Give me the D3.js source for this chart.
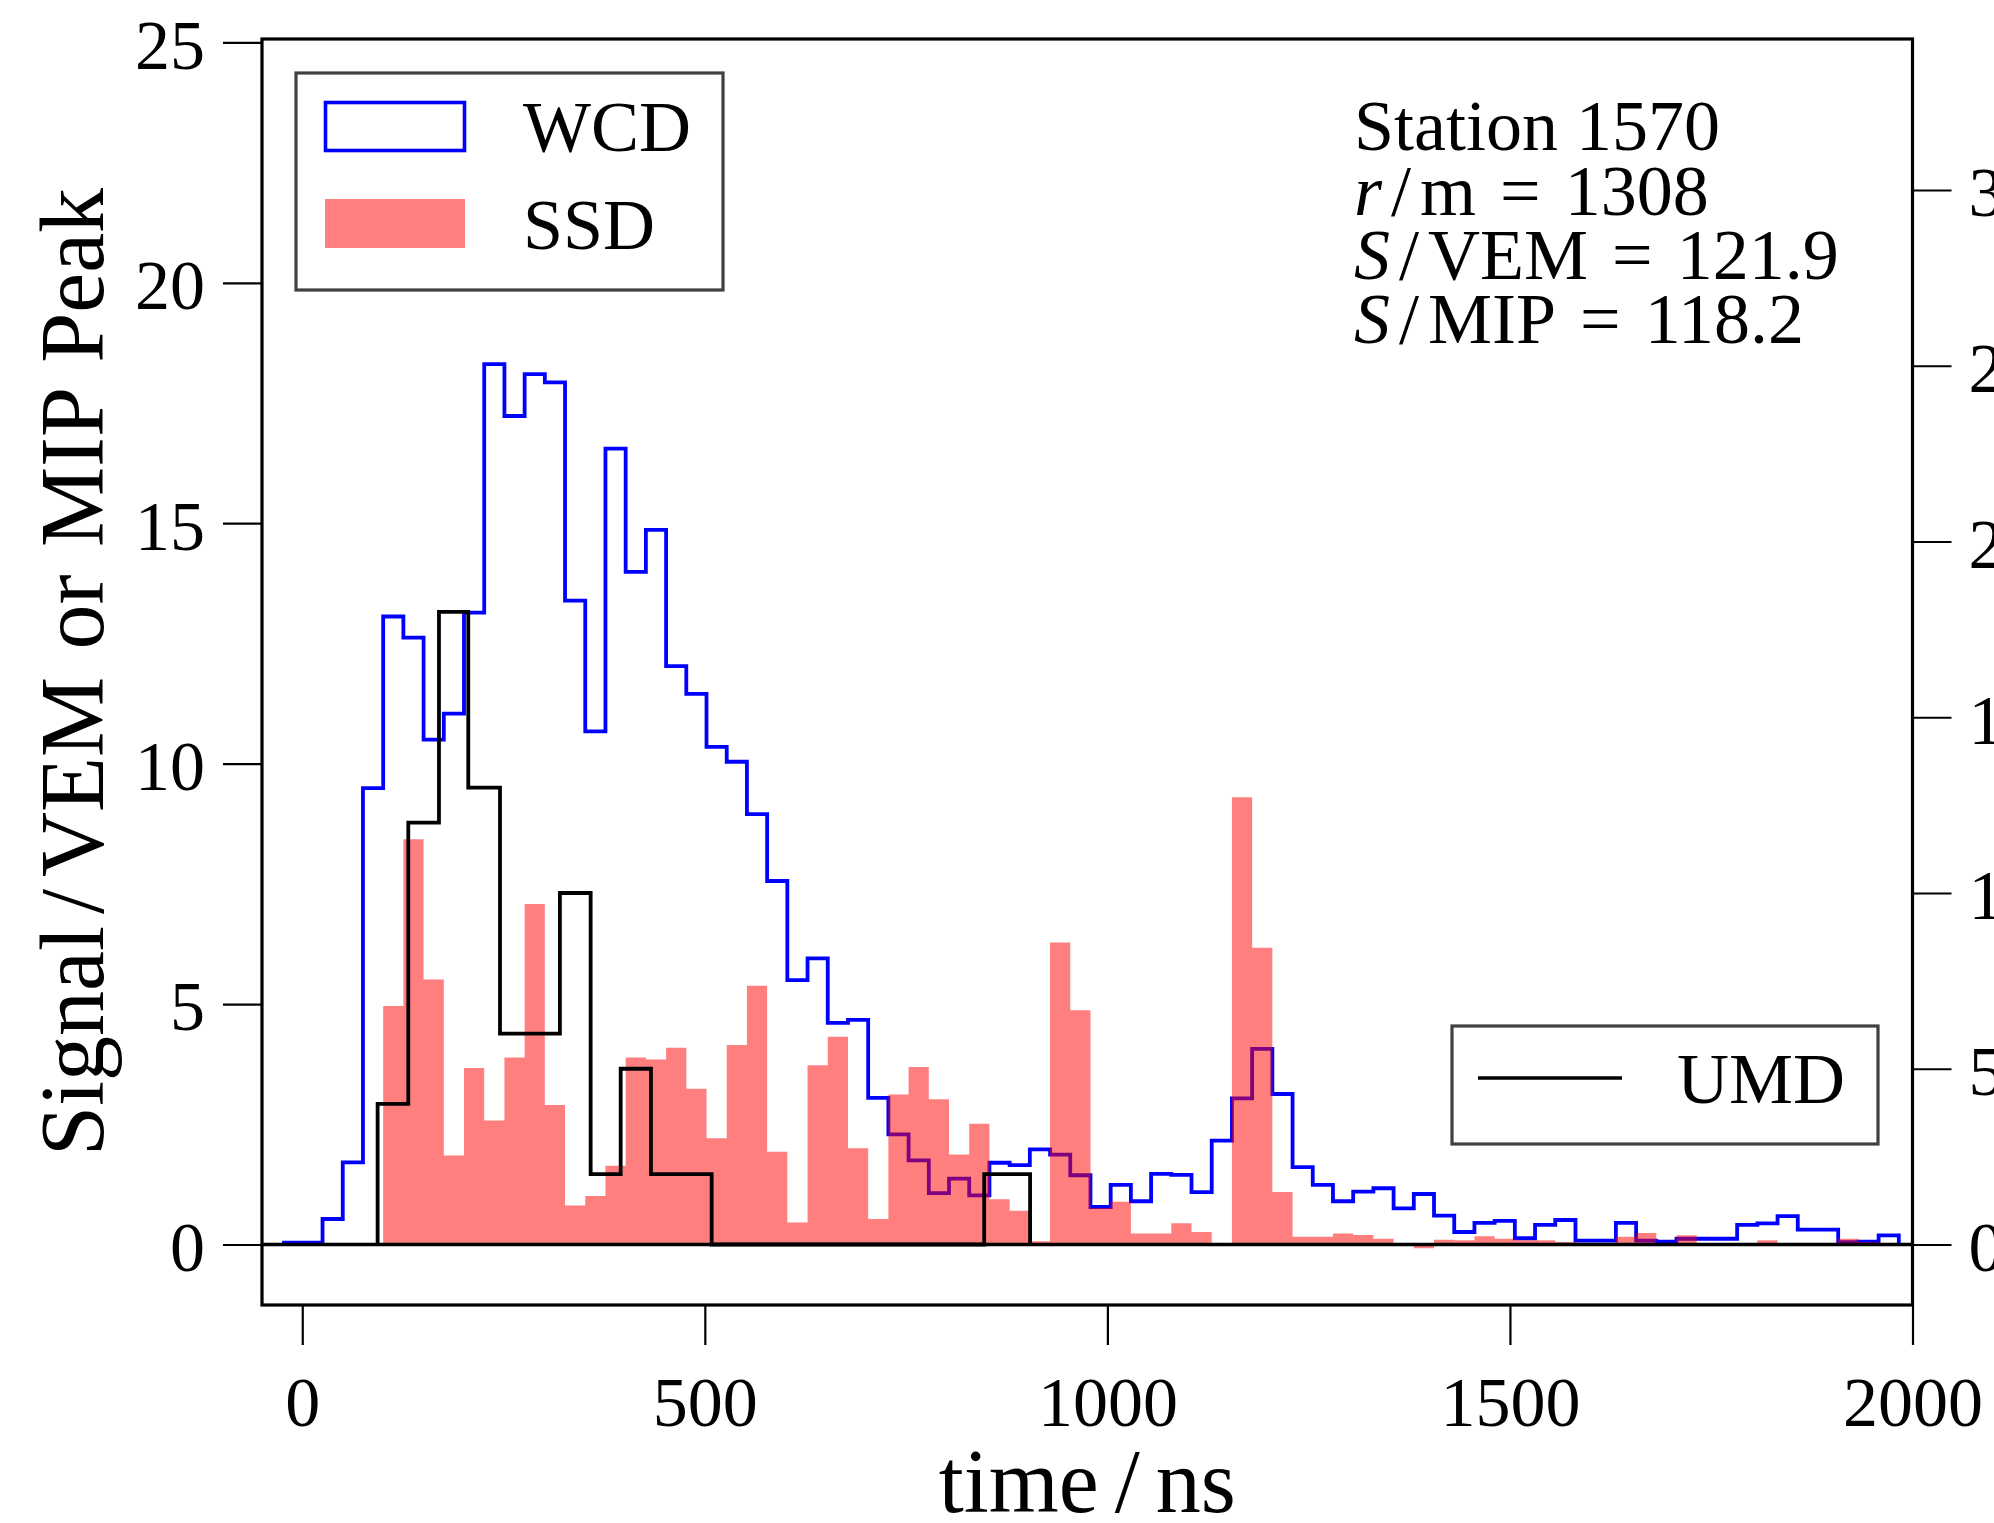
<!DOCTYPE html>
<html><head><meta charset="utf-8">
<script src="https://cdn.jsdelivr.net/npm/d3@7/dist/d3.min.js"></script>
<style>
body{margin:0;background:#fff}
svg{display:block}
text{font-family:"Liberation Serif","Times New Roman",serif;fill:#000}
</style>
</head><body>
<svg id="chart" width="1994" height="1523"></svg>
<script>
// ---- data ----
const binStart = -25;      // ns, first bin edge of WCD/SSD traces
const binWidth = 25.1;     // ns per FADC bin
const wcdValues = [0.04,0.04,0.53,1.71,9.49,13.06,12.62,10.50,11.04,13.14,
  18.31,17.23,18.10,17.93,13.39,10.67,16.55,13.99,14.86,12.03,
  11.45,10.35,10.04,8.95,7.56,5.50,5.95,4.61,4.67,3.05,
  2.29,1.75,1.07,1.37,1.02,1.70,1.65,1.98,1.87,1.44,
  0.78,1.24,0.90,1.47,1.45,1.09,2.16,3.04,4.07,3.13,
  1.61,1.24,0.90,1.10,1.17,0.75,1.05,0.60,0.26,0.45,
  0.49,0.13,0.41,0.51,0.08,0.08,0.45,0.08,0.06,0.12,
  0.12,0.12,0.41,0.44,0.59,0.31,0.31,0.05,0.06,0.19];
const ssdValues = [0,0,0,0,0,4.96,8.43,5.51,1.85,3.67,
  2.58,3.89,7.08,2.90,0.81,1.01,1.64,3.89,3.85,4.09,
  3.24,2.21,4.15,5.38,1.93,0.46,3.73,4.32,2.00,0.53,
  3.12,3.69,3.02,1.87,2.51,0.94,0.70,0.07,6.28,4.87,
  0.76,0.89,0.23,0.23,0.44,0.26,0,9.30,6.17,1.09,
  0.16,0.16,0.23,0.20,0.12,0,-0.08,0.10,0.09,0.17,
  0.12,0.09,0.09,0.05,0,0,0.16,0.24,0,0.19,
  0,0,0,0.09,0.03,0,0,0.12,0.05,0];
const umdEdges  = [93.6,131.7,169.8,206.2,245.6,283,320,358.2,395.5,433.1,470.8,508.5,847,904];
const umdValues = [4,12,18,13,6,6,10,2,5,2,2,0,2];
const xTicks = [0,500,1000,1500,2000];
const yTicks = [0,5,10,15,20,25];
const yRightTicks = [0,5,10,15,20,25,30];
const legendLabels = ["WCD","SSD","UMD"];
const stationInfo = {station:"1570", r:"1308", sVem:"121.9", sMip:"118.2"};

// ---- layout ----
const L = 262, R = 1912.5, T = 39, B = 1305;
const svg = d3.select("#chart");
const x = d3.scaleLinear().domain([-50, 2000]).range([L, R]);
const yL = d3.scaleLinear().domain([-1.258, 25.07]).range([B, T]);
const rightFactor = 1.368;
const yR = d3.scaleLinear().domain([-1.258*rightFactor, 25.07*rightFactor]).range([B, T]);

const edges = d3.range(wcdValues.length + 1).map(k => binStart + binWidth*k);

// WCD step line
const wcdPts = wcdValues.map((v,i) => [edges[i], v]);
wcdPts.push([edges[wcdValues.length], wcdValues[wcdValues.length-1]]);
wcdPts.push([edges[wcdValues.length], 0]);
const stepLine = d3.line().x(d => x(d[0])).y(d => yL(d[1])).curve(d3.curveStepAfter);
svg.append("path").attr("d", stepLine(wcdPts))
  .attr("fill","none").attr("stroke","#0000ff").attr("stroke-width",3.8)
  .attr("stroke-linejoin","miter");

// SSD filled histogram
const ssdPts = ssdValues.map((v,i) => [edges[i], v]);
ssdPts.push([edges[ssdValues.length], ssdValues[ssdValues.length-1]]);
const area = d3.area().x(d => x(d[0])).y0(yL(0)).y1(d => yL(d[1])).curve(d3.curveStepAfter);
svg.append("path").attr("d", area(ssdPts))
  .attr("fill","#ff0000").attr("fill-opacity",0.5).attr("stroke","none");

// UMD step line (right axis)
const umdPts = umdValues.map((v,i) => [umdEdges[i], v]);
umdPts.unshift([umdEdges[0], 0]);
umdPts.push([umdEdges[umdEdges.length-1], umdValues[umdValues.length-1]]);
umdPts.push([umdEdges[umdEdges.length-1], 0]);
const umdLine = d3.line().x(d => x(d[0])).y(d => yR(d[1])).curve(d3.curveLinear);
const umdStep = [];
umdPts.forEach((p,i) => {
  if (i > 0) umdStep.push([p[0], umdPts[i-1][1]]);
  umdStep.push(p);
});
svg.append("path").attr("d", umdLine(umdStep))
  .attr("fill","none").attr("stroke","#000").attr("stroke-width",3.8);

// zero line
svg.append("line").attr("x1",L).attr("x2",R).attr("y1",yL(0)).attr("y2",yL(0))
  .attr("stroke","#000").attr("stroke-width",3.4);

// frame
svg.append("rect").attr("x",L).attr("y",T).attr("width",R-L).attr("height",B-T)
  .attr("fill","none").attr("stroke","#000").attr("stroke-width",3.2);

// axes
function styleAxis(g){
  g.select(".domain").remove();
  g.selectAll(".tick line").attr("stroke","#000").attr("stroke-width",2.2);
  g.selectAll(".tick text").attr("font-size",70)
    .attr("font-family",'"Liberation Serif","Times New Roman",serif').attr("fill","#000");
}
const gl = svg.append("g").attr("transform",`translate(${L},0)`)
  .call(d3.axisLeft(yL).tickValues(yTicks).tickSize(39).tickPadding(18).tickFormat(d3.format("d")));
styleAxis(gl); gl.selectAll(".tick text").attr("dy","0.37em");
const gr = svg.append("g").attr("transform",`translate(${R},0)`)
  .call(d3.axisRight(yR).tickValues(yRightTicks).tickSize(39).tickPadding(17).tickFormat(d3.format("d")));
styleAxis(gr); gr.selectAll(".tick text").attr("dy","0.37em");
const gb = svg.append("g").attr("transform",`translate(0,${B})`)
  .call(d3.axisBottom(x).tickValues(xTicks).tickSize(40).tickPadding(31).tickFormat(d3.format("d")));
styleAxis(gb);

// helper: text with math-style spacing around the slash
function slashText(sel, parts){
  parts.forEach(p => {
    const ts = sel.append("tspan").text(p.t);
    if (p.italic) ts.attr("font-style","italic");
    if (p.dx) ts.attr("dx", p.dx);
  });
}

// axis labels
const xl = svg.append("text").attr("x",(L+R)/2).attr("y",1512).attr("text-anchor","middle")
  .attr("font-size",90);
slashText(xl, [{t:"time"},{t:"/",dx:16},{t:"ns",dx:16}]);
const yl = svg.append("text").attr("transform",`translate(103,${(T+B)/2}) rotate(-90)`)
  .attr("text-anchor","middle").attr("font-size",90).attr("word-spacing",5);
slashText(yl, [{t:"Signal"},{t:"/",dx:12},{t:"VEM or MIP Peak",dx:12}]);

// legend 1
const lg = svg.append("g");
lg.append("rect").attr("x",296).attr("y",73).attr("width",427).attr("height",217)
  .attr("fill","#fff").attr("stroke","#404040").attr("stroke-width",3.2);
lg.append("rect").attr("x",325.5).attr("y",102.5).attr("width",139).attr("height",48)
  .attr("fill","none").attr("stroke","#0000ff").attr("stroke-width",3.6);
lg.append("rect").attr("x",325).attr("y",199).attr("width",140).attr("height",49)
  .attr("fill","#ff0000").attr("fill-opacity",0.5);
lg.append("text").attr("x",523).attr("y",151).attr("font-size",72).text(legendLabels[0]);
lg.append("text").attr("x",523).attr("y",249).attr("font-size",72).text(legendLabels[1]);

// legend 2
const lg2 = svg.append("g");
lg2.append("rect").attr("x",1452).attr("y",1026).attr("width",426).attr("height",118)
  .attr("fill","#fff").attr("stroke","#404040").attr("stroke-width",3.2);
lg2.append("line").attr("x1",1478).attr("x2",1622).attr("y1",1078).attr("y2",1078)
  .attr("stroke","#000").attr("stroke-width",3.6);
lg2.append("text").attr("x",1677).attr("y",1103).attr("font-size",72).text(legendLabels[2]);

// station annotation
const ann = svg.append("g").attr("font-size",72);
ann.append("text").attr("x",1354).attr("y",150).text("Station " + stationInfo.station);
const lines = [
  {y:215, sym:"r", unit:"m", val:stationInfo.r},
  {y:279, sym:"S", unit:"VEM", val:stationInfo.sVem},
  {y:343, sym:"S", unit:"MIP", val:stationInfo.sMip}
];
lines.forEach(l => {
  const t = ann.append("text").attr("x",1354).attr("y",l.y);
  slashText(t, [{t:l.sym,italic:true},{t:"/",dx:9},{t:l.unit,dx:9},{t:"=",dx:24},{t:l.val,dx:24}]);
});
</script>
</body></html>
